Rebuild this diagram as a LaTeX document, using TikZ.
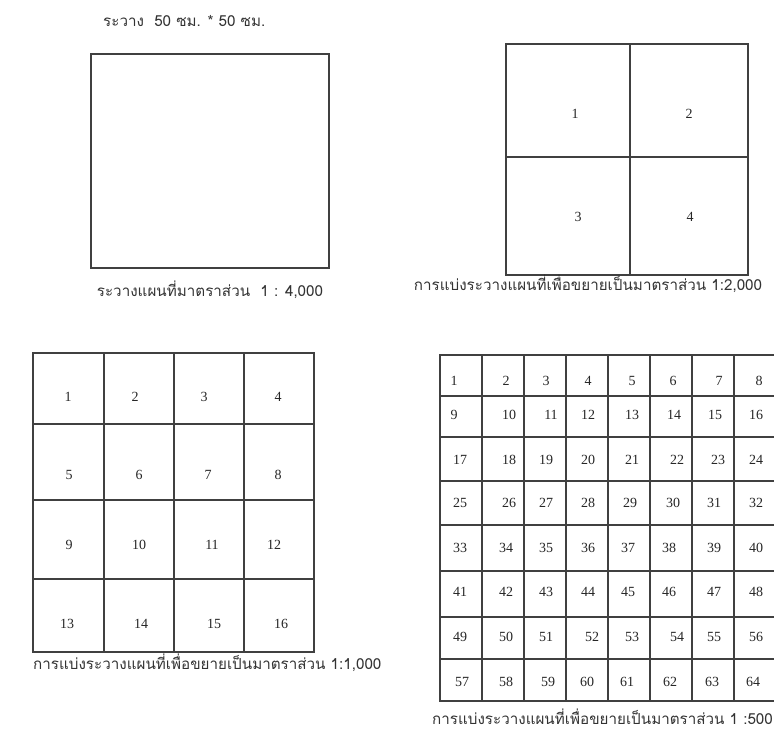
\documentclass[tikz,border=0pt]{standalone}
\usepackage{fontspec}
\setmainfont{Liberation Serif}
\newfontfamily\thaifont[Script=Thai]{Loma}
\begin{document}
\begin{tikzpicture}[x=1pt,y=-1pt,
  gridline/.style={line width=1.1pt,draw=black!75},
  num/.style={font=\fontsize{14}{15}\selectfont,inner sep=0pt,text=black!85},
  captext/.style={font=\thaifont\fontsize{15.2}{17}\selectfont,inner sep=0pt,text=black!80}]
\useasboundingbox (0,0) rectangle (774,733);
\clip (0,0) rectangle (774,733);
% title
\node[captext,anchor=base west] (title) at (103,27) {ระวาง\ \ 50 ซม. * 50 ซม.};
% top-left sheet
\draw[gridline] (91,54) rectangle (329,268);
\node[captext,anchor=base] (c1) at (210,296) {ระวางแผนที่มาตราส่วน\ \ 1 : 4,000};
% top-right sheet
\draw[gridline] (506,44) rectangle (748,275);
\draw[gridline] (630,44) -- (630,275);
\draw[gridline] (506,157) -- (748,157);
\node[num] (q1) at (575,114) {1};
\node[num] (q2) at (689,114) {2};
\node[num] (q3) at (578,217) {3};
\node[num] (q4) at (690,217) {4};
\node[captext,anchor=base] (c2) at (588,290) {การแบ่งระวางแผนที่เพื่อขยายเป็นมาตราส่วน 1:2,000};
% bottom-left 4x4
\draw[gridline] (33,353) rectangle (314,652);
\foreach \x in {104,174,244} \draw[gridline] (\x,353) -- (\x,652);
\foreach \y in {424,500,579} \draw[gridline] (33,\y) -- (314,\y);
\foreach \n/\x/\y in {1/68/397,2/135/397,3/204/397,4/278/397,
  5/69/475,6/139/475,7/208/475,8/278/475,
  9/69/545,10/139/545,11/212/545,12/274/545,
  13/67/624,14/141/624,15/214/624,16/281/624}
  \node[num] (b\n) at (\x,\y) {\n};
\node[captext,anchor=base west] (c3) at (33,669) {การแบ่งระวางแผนที่เพื่อขยายเป็นมาตราส่วน 1:1,000};
% bottom-right 8x8
\draw[gridline] (440,355) rectangle (776,701);
\foreach \x in {482,524,566,608,650,692,734} \draw[gridline] (\x,355) -- (\x,701);
\foreach \y in {396,437,481,525,571,617,659} \draw[gridline] (440,\y) -- (776,\y);
\foreach \n/\x/\y in {
  1/454/381,2/506/381,3/546/381,4/588/381,5/632/381,6/673/381,7/719/381,8/759/381,
  9/454/415,10/509/415,11/551/415,12/588/415,13/632/415,14/674/415,15/715/415,16/756/415,
  17/460/460,18/509/460,19/546/460,20/588/460,21/632/460,22/677/460,23/718/460,24/756/460,
  25/460/503,26/509/503,27/546/503,28/588/503,29/630/503,30/673/503,31/714/503,32/756/503,
  33/460/548,34/506/548,35/546/548,36/588/548,37/628/548,38/669/548,39/714/548,40/756/548,
  41/460/592,42/506/592,43/546/592,44/588/592,45/628/592,46/669/592,47/714/592,48/756/592,
  49/460/637,50/506/637,51/546/637,52/592/637,53/632/637,54/677/637,55/714/637,56/756/637,
  57/462/682,58/506/682,59/548/682,60/587/682,61/627/682,62/670/682,63/712/682,64/753/682}
  \node[num] (d\n) at (\x,\y) {\n};
\node[captext,anchor=base east] (c4) at (773,724) {การแบ่งระวางแผนที่เพื่อขยายเป็นมาตราส่วน 1 :500};
\end{tikzpicture}
\end{document}
